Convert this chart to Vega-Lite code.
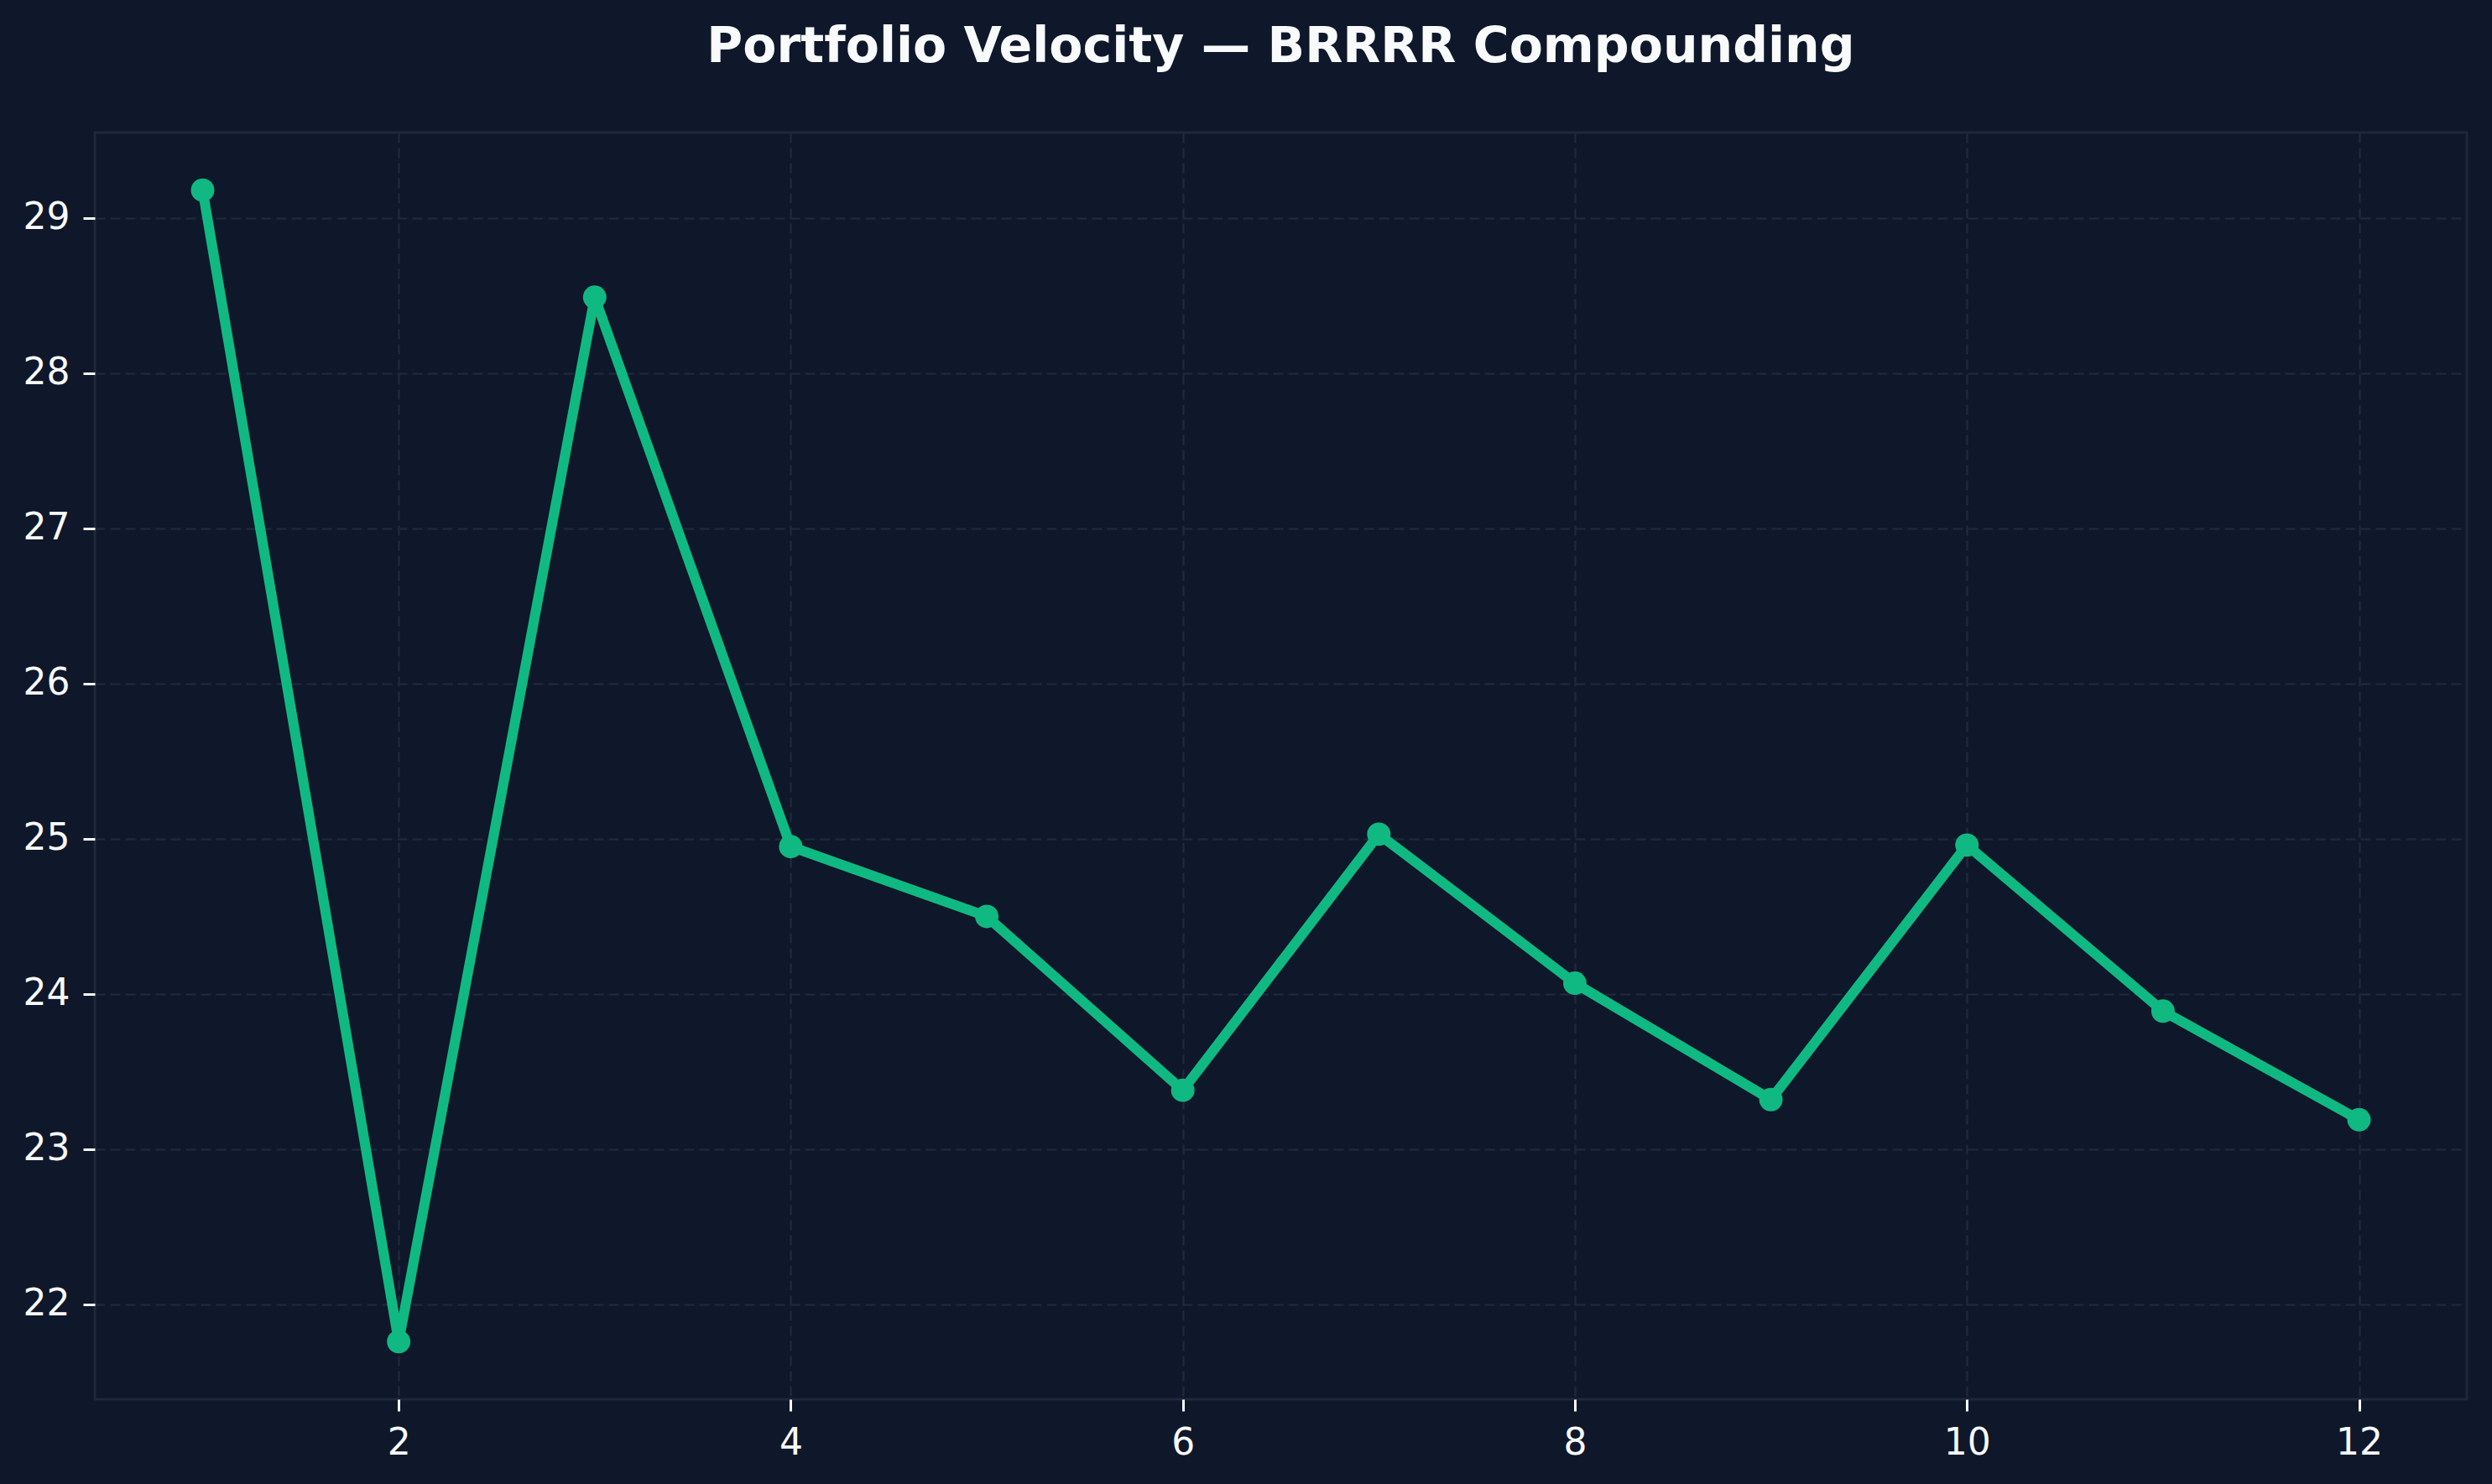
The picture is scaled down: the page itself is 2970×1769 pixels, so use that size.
{
  "$schema": "https://vega.github.io/schema/vega-lite/v6.json",
  "autosize": {"type": "none"},
  "width": 2827,
  "height": 1510,
  "padding": {"left": 113, "top": 158, "right": 30, "bottom": 101},
  "background": "#0f172a",
  "title": {
    "text": "Portfolio Velocity — BRRRR Compounding",
    "font": "DejaVu Sans",
    "fontSize": 58.5,
    "fontWeight": "bold",
    "color": "#f8fafc",
    "anchor": "middle",
    "baseline": "alphabetic",
    "offset": 26
  },
  "config": {
    "view": {"stroke": "#1e293b", "strokeWidth": 3},
    "axis": {
      "labelFont": "DejaVu Sans",
      "labelFontSize": 44,
      "labelColor": "#f8fafc",
      "tickColor": "#f8fafc",
      "tickWidth": 3,
      "tickSize": 14,
      "labelPadding": 16,
      "domain": false,
      "grid": true,
      "gridColor": "#1e293b",
      "gridWidth": 2.5,
      "gridDash": [12, 6],
      "title": null
    }
  },
  "data": {
    "values": [
      {"step": 1, "velocity": 29.18},
      {"step": 2, "velocity": 21.76},
      {"step": 3, "velocity": 28.49},
      {"step": 4, "velocity": 24.95},
      {"step": 5, "velocity": 24.50},
      {"step": 6, "velocity": 23.38},
      {"step": 7, "velocity": 25.03},
      {"step": 8, "velocity": 24.07},
      {"step": 9, "velocity": 23.32},
      {"step": 10, "velocity": 24.96},
      {"step": 11, "velocity": 23.89},
      {"step": 12, "velocity": 23.19}
    ]
  },
  "encoding": {
    "x": {
      "field": "step",
      "type": "quantitative",
      "scale": {"domain": [0.45, 12.55], "nice": false, "zero": false},
      "axis": {"values": [2, 4, 6, 8, 10, 12], "format": "d"}
    },
    "y": {
      "field": "velocity",
      "type": "quantitative",
      "scale": {"domain": [21.389, 29.551], "nice": false, "zero": false},
      "axis": {"values": [22, 23, 24, 25, 26, 27, 28, 29], "format": "d"}
    }
  },
  "layer": [
    {"mark": {"type": "line", "color": "#10b981", "strokeWidth": 12, "strokeJoin": "round"}},
    {"mark": {"type": "point", "filled": true, "color": "#10b981", "opacity": 1, "size": 780}}
  ]
}
